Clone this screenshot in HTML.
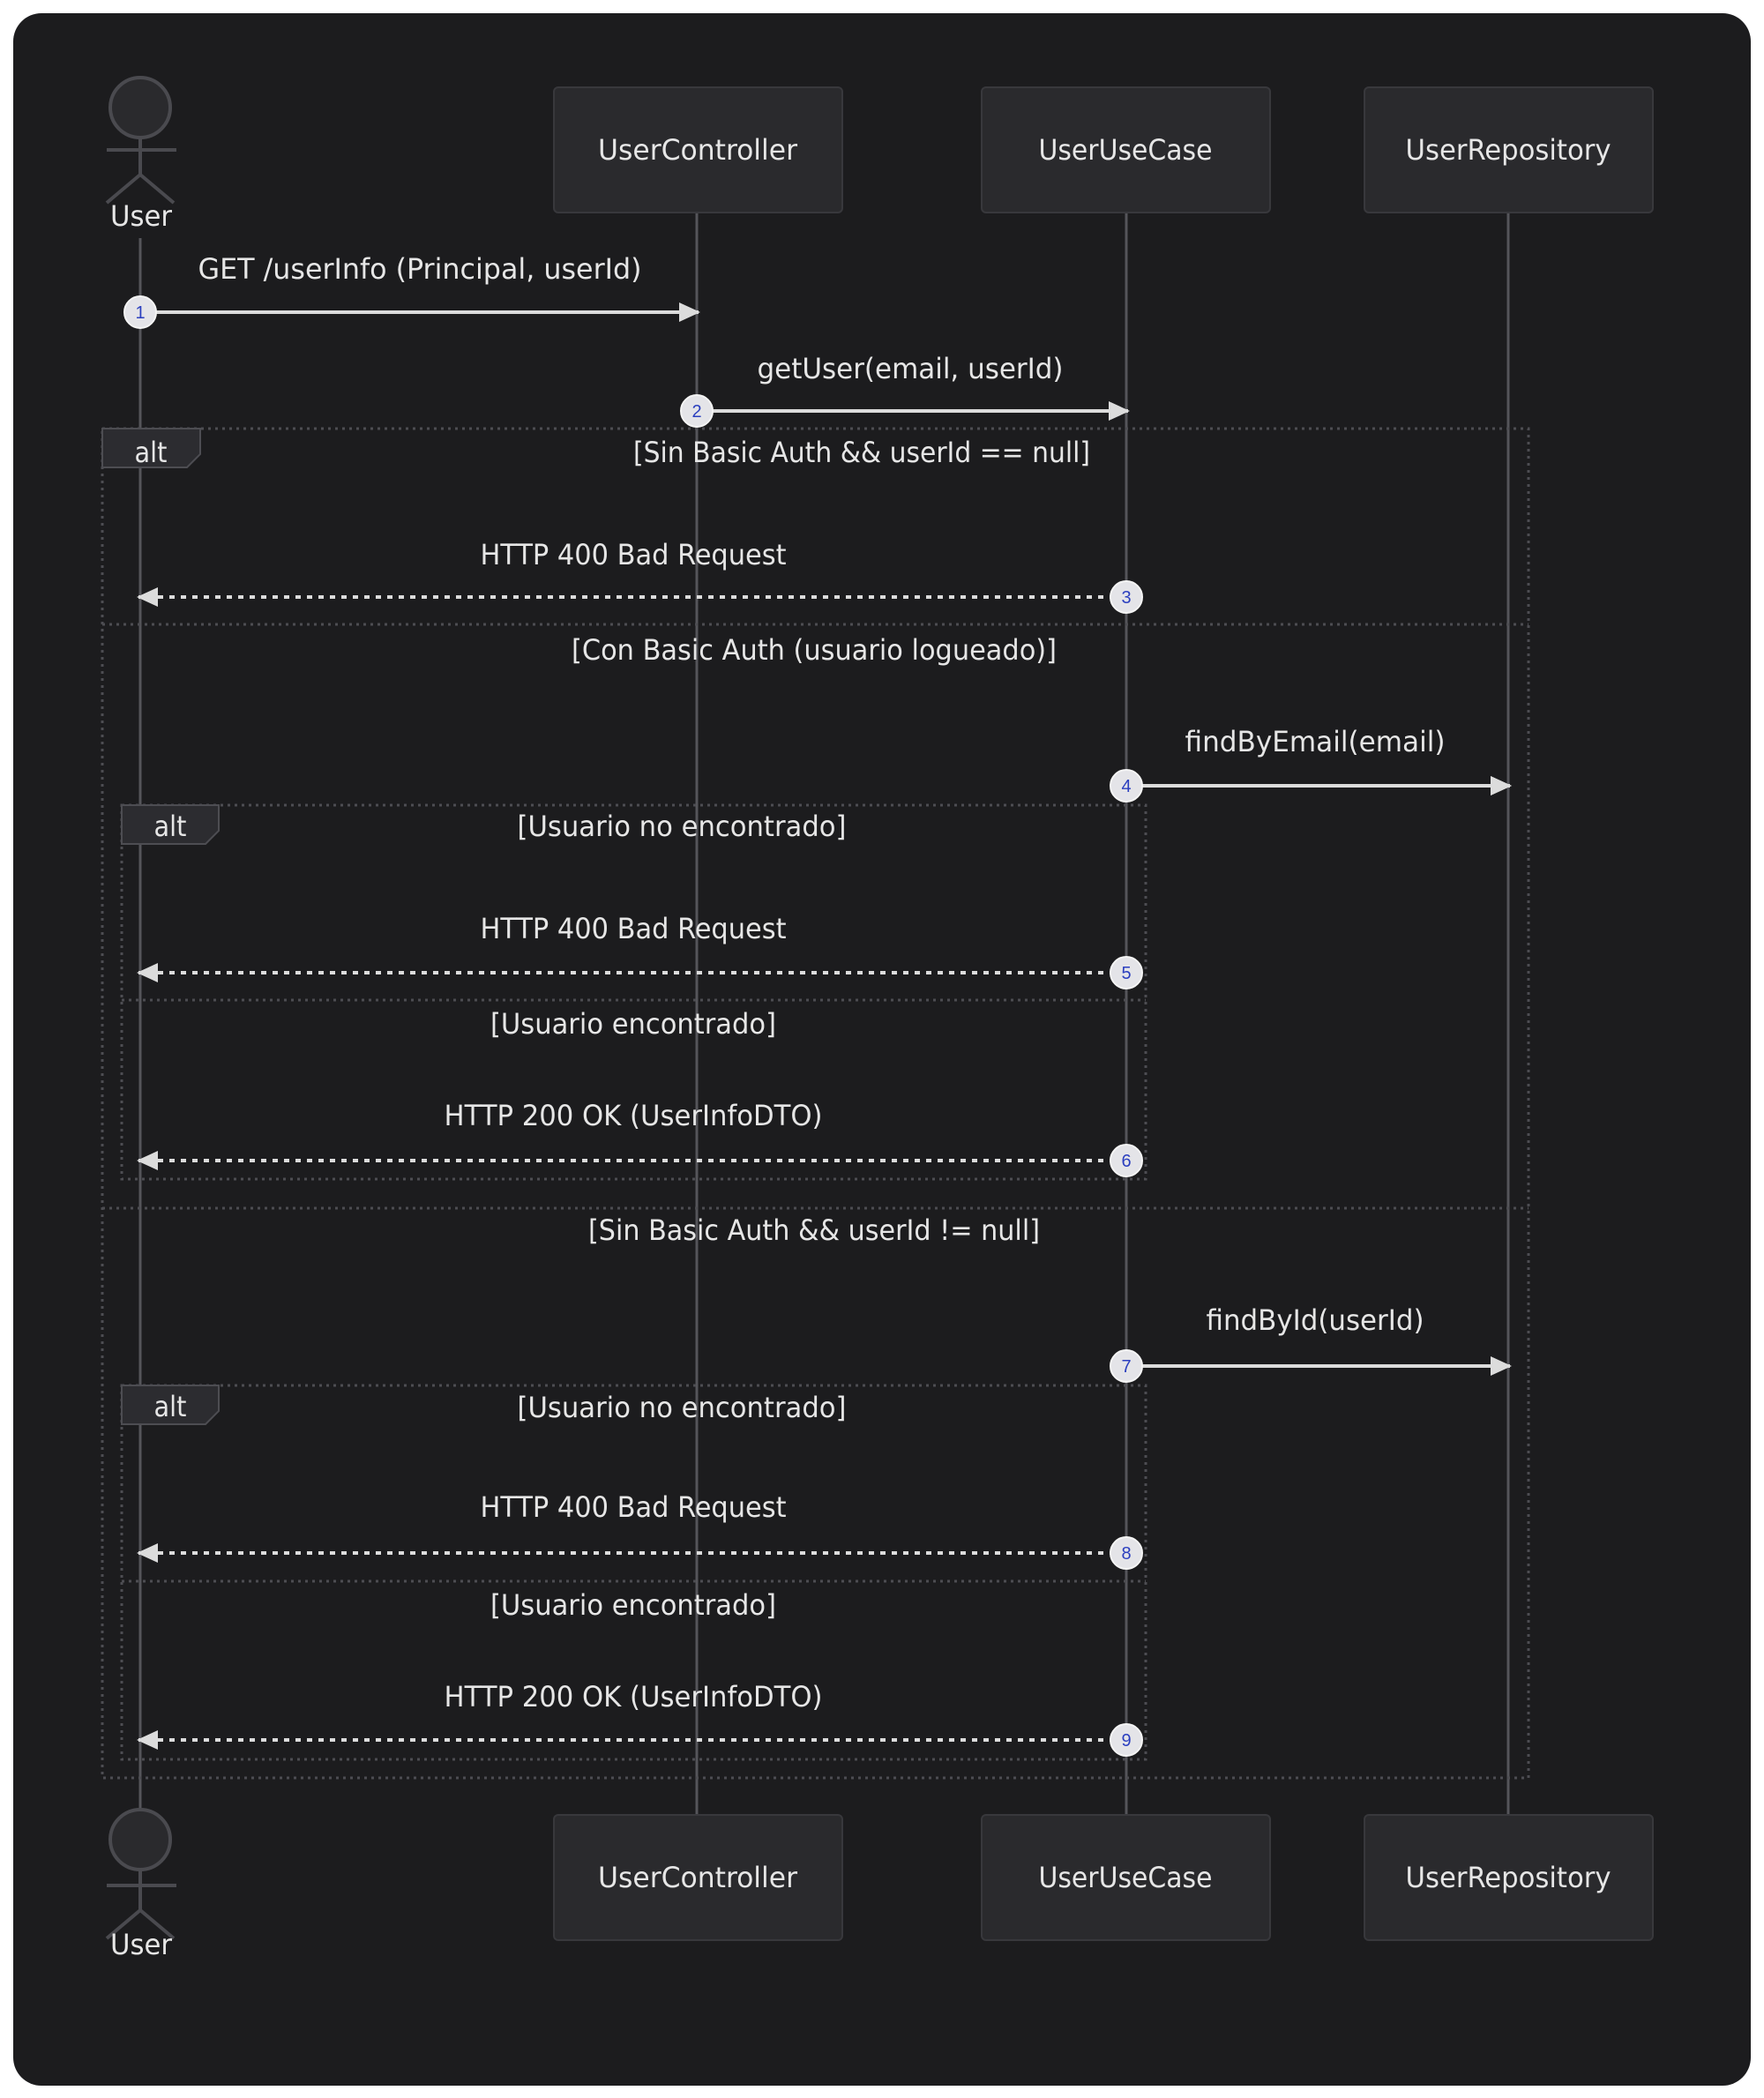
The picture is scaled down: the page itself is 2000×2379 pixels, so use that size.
<!DOCTYPE html>
<html><head><meta charset="utf-8"><style>
html,body{margin:0;padding:0;background:#fff;}
svg{display:block;}
text{font-family:"DejaVu Sans Condensed","Liberation Sans",sans-serif;fill:#e6e6e6;font-size:32px;}
.c{text-anchor:middle;}
.n{font-size:20px;fill:#2b3fbf;text-anchor:middle;font-family:"Liberation Sans",sans-serif;}
</style></head><body>
<svg width="2000" height="2379" viewBox="0 0 2000 2379" xmlns="http://www.w3.org/2000/svg">
<defs>
<marker id="ah" markerWidth="24" markerHeight="22" refX="22" refY="11" orient="auto" markerUnits="userSpaceOnUse">
<path d="M0,0 L24,11 L0,22 z" fill="#dcdcdc"/></marker>
</defs>
<rect x="15" y="15" width="1970" height="2350" rx="32" fill="#1c1c1e"/>
<!-- lifelines -->
<g stroke="#55555a" stroke-width="3">
<line x1="159" y1="270" x2="159" y2="2050"/>
<line x1="790" y1="242" x2="790" y2="2057"/>
<line x1="1277" y1="242" x2="1277" y2="2057"/>
<line x1="1710" y1="242" x2="1710" y2="2057"/>
</g>
<!-- boxes -->
<g fill="#2a2a2d" stroke="#38383c" stroke-width="2">
<rect x="628" y="99" width="327" height="142" rx="5"/>
<rect x="1113" y="99" width="327" height="142" rx="5"/>
<rect x="1547" y="99" width="327" height="142" rx="5"/>
<rect x="628" y="2058" width="327" height="142" rx="5"/>
<rect x="1113" y="2058" width="327" height="142" rx="5"/>
<rect x="1547" y="2058" width="327" height="142" rx="5"/>
</g>
<text class="c" x="791" y="181" textLength="226" lengthAdjust="spacingAndGlyphs">UserController</text>
<text class="c" x="1276" y="181" textLength="197" lengthAdjust="spacingAndGlyphs">UserUseCase</text>
<text class="c" x="1710" y="181" textLength="233" lengthAdjust="spacingAndGlyphs">UserRepository</text>
<text class="c" x="791" y="2140" textLength="226" lengthAdjust="spacingAndGlyphs">UserController</text>
<text class="c" x="1276" y="2140" textLength="197" lengthAdjust="spacingAndGlyphs">UserUseCase</text>
<text class="c" x="1710" y="2140" textLength="233" lengthAdjust="spacingAndGlyphs">UserRepository</text>
<!-- actors -->
<g fill="#2a2a2d" stroke="#4a4a4f" stroke-width="4">
<ellipse cx="159" cy="122" rx="34" ry="34"/>
<line x1="159" y1="156" x2="159" y2="198" /><line x1="121" y1="170" x2="200" y2="170"/>
<line x1="159" y1="198" x2="121" y2="230"/><line x1="159" y1="198" x2="197" y2="230"/>
<ellipse cx="159" cy="2086" rx="34" ry="34"/>
<line x1="159" y1="2120" x2="159" y2="2166" /><line x1="121" y1="2138" x2="200" y2="2138"/>
<line x1="159" y1="2166" x2="121" y2="2198"/><line x1="159" y1="2166" x2="197" y2="2198"/>
</g>
<text class="c" x="160" y="256" textLength="70" lengthAdjust="spacingAndGlyphs">User</text>
<text class="c" x="160" y="2216" textLength="70" lengthAdjust="spacingAndGlyphs">User</text>
<!-- frames -->
<g fill="none" stroke="#4d4d52" stroke-width="3" stroke-dasharray="3,5">
<rect x="116" y="486" width="1617" height="1530"/>
<line x1="116" y1="708" x2="1733" y2="708"/>
<line x1="116" y1="1370" x2="1733" y2="1370"/>
<rect x="138" y="913" width="1161" height="424"/>
<line x1="138" y1="1134" x2="1299" y2="1134"/>
<rect x="138" y="1571" width="1161" height="424"/>
<line x1="138" y1="1793" x2="1299" y2="1793"/>
</g>
<g fill="#2c2c30" stroke="#4d4d52" stroke-width="2">
<path d="M116,486 L227,486 L227,515 L212,530 L116,530 z"/>
<path d="M138,913 L248,913 L248,942 L233,957 L138,957 z"/>
<path d="M138,1571 L248,1571 L248,1600 L233,1615 L138,1615 z"/>
</g>
<text class="c" x="171" y="524">alt</text>
<text class="c" x="193" y="948">alt</text>
<text class="c" x="193" y="1606">alt</text>
<text class="c" x="977" y="524" textLength="518" lengthAdjust="spacingAndGlyphs">[Sin Basic Auth &amp;&amp; userId == null]</text>
<text class="c" x="923" y="748" textLength="550" lengthAdjust="spacingAndGlyphs">[Con Basic Auth (usuario logueado)]</text>
<text class="c" x="773" y="948" textLength="373" lengthAdjust="spacingAndGlyphs">[Usuario no encontrado]</text>
<text class="c" x="718" y="1172" textLength="324" lengthAdjust="spacingAndGlyphs">[Usuario encontrado]</text>
<text class="c" x="923" y="1406" textLength="512" lengthAdjust="spacingAndGlyphs">[Sin Basic Auth &amp;&amp; userId != null]</text>
<text class="c" x="773" y="1607" textLength="373" lengthAdjust="spacingAndGlyphs">[Usuario no encontrado]</text>
<text class="c" x="718" y="1831" textLength="324" lengthAdjust="spacingAndGlyphs">[Usuario encontrado]</text>
<!-- messages -->
<g stroke="#dcdcdc" stroke-width="4" fill="none" marker-end="url(#ah)">
<line x1="159" y1="354" x2="792" y2="354"/>
<line x1="790" y1="466" x2="1279" y2="466"/>
<line x1="1712" y1="891" x2="1712" y2="891"/>
<line x1="1277" y1="891" x2="1712" y2="891"/>
<line x1="1277" y1="1549" x2="1712" y2="1549"/>
</g>
<g stroke="#dcdcdc" stroke-width="4" fill="none" stroke-dasharray="6,7" marker-end="url(#ah)">
<line x1="1277" y1="677" x2="157" y2="677"/>
<line x1="1277" y1="1103" x2="157" y2="1103"/>
<line x1="1277" y1="1316" x2="157" y2="1316"/>
<line x1="1277" y1="1761" x2="157" y2="1761"/>
<line x1="1277" y1="1973" x2="157" y2="1973"/>
</g>
<text class="c" x="476" y="316" textLength="503" lengthAdjust="spacingAndGlyphs">GET /userInfo (Principal, userId)</text>
<text class="c" x="1032" y="429" textLength="347" lengthAdjust="spacingAndGlyphs">getUser(email, userId)</text>
<text class="c" x="718" y="640" textLength="347" lengthAdjust="spacingAndGlyphs">HTTP 400 Bad Request</text>
<text class="c" x="1491" y="852" textLength="295" lengthAdjust="spacingAndGlyphs">findByEmail(email)</text>
<text class="c" x="718" y="1064" textLength="347" lengthAdjust="spacingAndGlyphs">HTTP 400 Bad Request</text>
<text class="c" x="718" y="1276" textLength="429" lengthAdjust="spacingAndGlyphs">HTTP 200 OK (UserInfoDTO)</text>
<text class="c" x="1491" y="1508" textLength="247" lengthAdjust="spacingAndGlyphs">findById(userId)</text>
<text class="c" x="718" y="1720" textLength="347" lengthAdjust="spacingAndGlyphs">HTTP 400 Bad Request</text>
<text class="c" x="718" y="1935" textLength="429" lengthAdjust="spacingAndGlyphs">HTTP 200 OK (UserInfoDTO)</text>
<!-- number circles -->
<g fill="#e4e4e8" stroke="#f4f4f4" stroke-width="2">
<circle cx="159" cy="354" r="18"/><circle cx="790" cy="466" r="18"/>
<circle cx="1277" cy="677" r="18"/><circle cx="1277" cy="891" r="18"/>
<circle cx="1277" cy="1103" r="18"/><circle cx="1277" cy="1316" r="18"/>
<circle cx="1277" cy="1549" r="18"/><circle cx="1277" cy="1761" r="18"/>
<circle cx="1277" cy="1973" r="18"/>
</g>
<text class="n" x="159" y="361">1</text><text class="n" x="790" y="473">2</text>
<text class="n" x="1277" y="684">3</text><text class="n" x="1277" y="898">4</text>
<text class="n" x="1277" y="1110">5</text><text class="n" x="1277" y="1323">6</text>
<text class="n" x="1277" y="1556">7</text><text class="n" x="1277" y="1768">8</text>
<text class="n" x="1277" y="1980">9</text>
</svg>
</body></html>
